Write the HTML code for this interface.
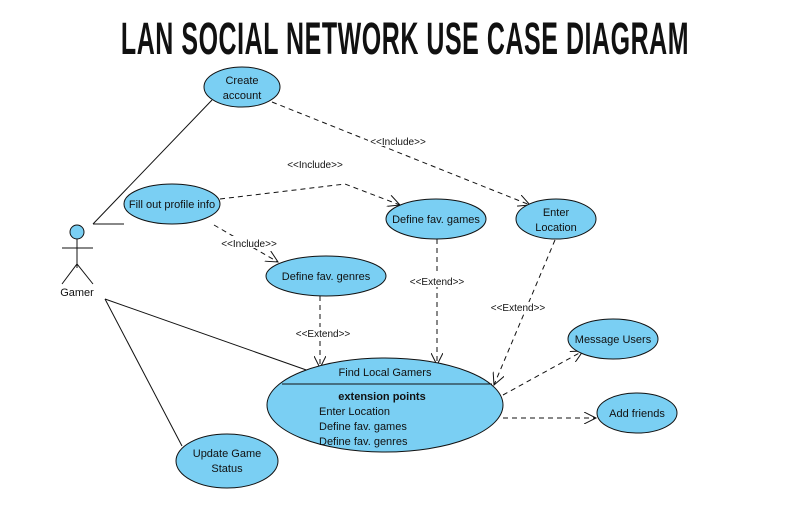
<!DOCTYPE html>
<html><head><meta charset="utf-8"><style>
html,body{margin:0;padding:0;background:#fff;width:787px;height:508px;overflow:hidden}
svg{display:block}
text{font-family:"Liberation Sans",sans-serif;fill:#111}
</style></head><body>
<svg width="787" height="508" viewBox="0 0 787 508" xmlns="http://www.w3.org/2000/svg">
<defs>
<marker id="a" markerWidth="14" markerHeight="12" refX="12" refY="6" orient="auto" markerUnits="userSpaceOnUse">
<path d="M0,0 L12,6 L0,12" fill="none" stroke="#111" stroke-width="1"/>
</marker>
</defs>
<text x="405" y="54" text-anchor="middle" font-size="45" font-weight="bold" transform="translate(405,0) scale(0.555,1) translate(-405,0)" style="font-family:'Liberation Sans Narrow','Liberation Sans',sans-serif;letter-spacing:1px">LAN SOCIAL NETWORK USE CASE DIAGRAM</text>

<g stroke="#111" stroke-width="1" fill="none">
<line x1="93" y1="224" x2="212" y2="100"/>
<line x1="93" y1="224" x2="124" y2="224"/>
<line x1="105" y1="299" x2="312" y2="372"/>
<line x1="105" y1="299" x2="182" y2="446"/>
</g>
<g stroke="#111" stroke-width="1" fill="none" stroke-dasharray="5,4">
<polyline points="272,102 530,205" marker-end="url(#a)"/>
<polyline points="220,199 345,184 400,205" marker-end="url(#a)"/>
<polyline points="214,225 278,262" marker-end="url(#a)"/>
<polyline points="320,296 320,368" marker-end="url(#a)"/>
<polyline points="437,239 437,365" marker-end="url(#a)"/>
<polyline points="555,240 494,385" marker-end="url(#a)"/>
<polyline points="503,395 583,351" marker-end="url(#a)"/>
<polyline points="503,418 596,418" marker-end="url(#a)"/>
</g>
<g fill="#fff">
<rect x="368" y="134" width="62" height="12"/>
<rect x="218" y="236" width="62" height="12"/>
<rect x="292" y="327" width="62" height="12"/>
<rect x="406" y="275" width="62" height="12"/>
<rect x="487" y="302" width="62" height="12"/>
</g>
<g font-size="10" text-anchor="middle">
<text x="398" y="145">&lt;&lt;Include&gt;&gt;</text>
<text x="315" y="168">&lt;&lt;Include&gt;&gt;</text>
<text x="249" y="247">&lt;&lt;Include&gt;&gt;</text>
<text x="323" y="337">&lt;&lt;Extend&gt;&gt;</text>
<text x="437" y="285">&lt;&lt;Extend&gt;&gt;</text>
<text x="518" y="311">&lt;&lt;Extend&gt;&gt;</text>
</g>

<g fill="#7acff3" stroke="#111" stroke-width="1">
<ellipse cx="242" cy="87" rx="38" ry="20"/>
<ellipse cx="172" cy="204" rx="48" ry="20"/>
<ellipse cx="436" cy="219" rx="50" ry="20"/>
<ellipse cx="556" cy="219" rx="40" ry="20"/>
<ellipse cx="326" cy="276" rx="60" ry="20"/>
<ellipse cx="613" cy="339" rx="45" ry="20"/>
<ellipse cx="385" cy="405" rx="118" ry="47"/>
<ellipse cx="637" cy="413" rx="40" ry="20"/>
<ellipse cx="227" cy="461" rx="51" ry="27"/>
<circle cx="77" cy="232" r="7"/>
</g>
<line x1="282" y1="384" x2="492" y2="384" stroke="#111" stroke-width="1"/>
<g stroke="#111" stroke-width="1" fill="none">
<line x1="77" y1="239" x2="77" y2="268"/>
<line x1="62" y1="248" x2="93" y2="248"/>
<polyline points="62,284 77,264 93,284"/>
</g>

<g font-size="11" text-anchor="middle">
<text x="242" y="84">Create</text>
<text x="242" y="99">account</text>
<text x="172" y="208">Fill out profile info</text>
<text x="436" y="223">Define fav. games</text>
<text x="556" y="216">Enter</text>
<text x="556" y="231">Location</text>
<text x="326" y="280">Define fav. genres</text>
<text x="613" y="343">Message Users</text>
<text x="637" y="417">Add friends</text>
<text x="227" y="457">Update Game</text>
<text x="227" y="472">Status</text>
<text x="385" y="376">Find Local Gamers</text>
<text x="382" y="400" font-weight="bold">extension points</text>
<text x="77" y="296">Gamer</text>
</g>
<g font-size="11">
<text x="319" y="415">Enter Location</text>
<text x="319" y="430">Define fav. games</text>
<text x="319" y="445">Define fav. genres</text>
</g>
</svg>
</body></html>
